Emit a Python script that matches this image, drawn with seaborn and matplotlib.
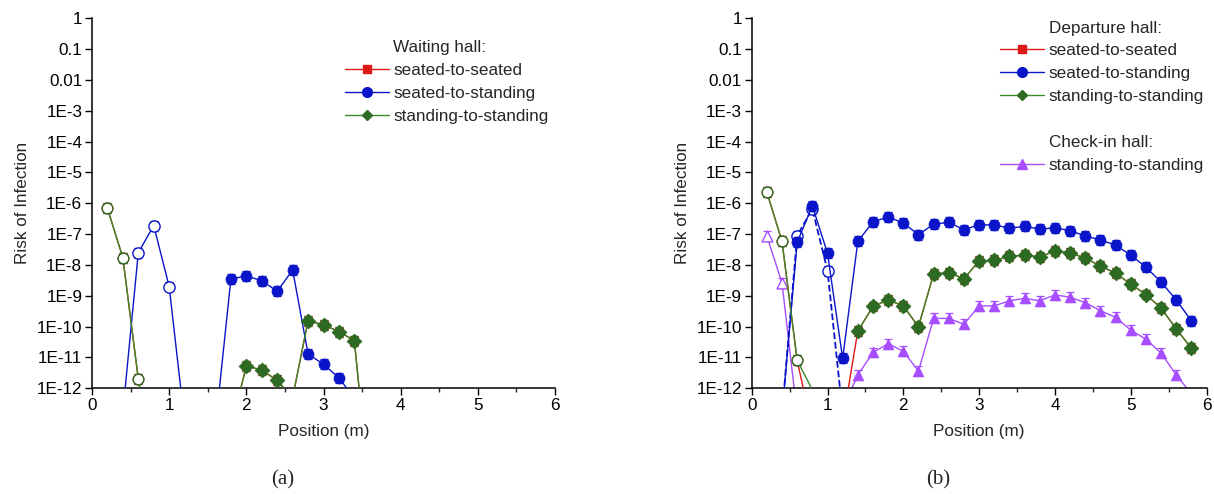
import numpy as np
import pandas as pd
import matplotlib
matplotlib.use("Agg")
import matplotlib.pyplot as plt
from matplotlib.lines import Line2D
import seaborn as sns

nan = np.nan

# ---------------- data ----------------
# (a) waiting hall, positions 0.2 .. 3.6 m
x_a = [0.2, 0.4, 0.6, 0.8, 1.0, 1.2, 1.4, 1.6, 1.8, 2.0, 2.2, 2.4, 2.6, 2.8, 3.0, 3.2, 3.4, 3.6]
a_seated_seated = [6.9e-7, 1.7e-8, 2.0e-12, 2e-15, nan, nan, nan, nan, 5e-14, 5.3e-12, 3.9e-12, 1.8e-12,
                   5e-13, 1.55e-10, 1.15e-10, 6.9e-11, 3.5e-11, 3e-16]
a_seated_standing = [nan, 1.7e-13, 2.5e-8, 1.9e-7, 2.0e-9, 8e-14, nan, 6e-14, 3.5e-9, 4.4e-9, 3.1e-9, 1.4e-9,
                     6.9e-9, 1.3e-11, 6.0e-12, 2.2e-12, 4.6e-13, nan]
a_standing_standing = [6.9e-7, 1.7e-8, 2.0e-12, 2e-15, nan, nan, nan, nan, 5e-14, 5.3e-12, 3.9e-12, 1.8e-12,
                       5e-13, 1.55e-10, 1.15e-10, 6.9e-11, 3.5e-11, 3e-16]

# (b) departure hall + check-in hall, positions 0.2 .. 5.8 m
x_b = [0.2, 0.4, 0.6, 0.8, 1.0, 1.2, 1.4, 1.6, 1.8, 2.0, 2.2, 2.4, 2.6, 2.8, 3.0, 3.2, 3.4, 3.6, 3.8, 4.0,
       4.2, 4.4, 4.6, 4.8, 5.0, 5.2, 5.4, 5.6, 5.8]
b_seated_seated = [2.3e-6, 5.8e-8, 8e-12, 4.5e-14, nan, 8e-14, 7.2e-11, 4.5e-10, 7.4e-10, 4.7e-10, 1.0e-10,
                   5.1e-9, 5.6e-9, 3.6e-9, 1.35e-8, 1.4e-8, 1.9e-8, 2.1e-8, 1.8e-8, 2.9e-8, 2.5e-8, 1.65e-8,
                   9.3e-9, 5.4e-9, 2.4e-9, 1.1e-9, 4.0e-10, 8.5e-11, 2.0e-11]
b_seated_standing = [nan, 1.5e-13, 5.4e-8, 8.3e-7, 2.4e-8, 9.3e-12, 5.8e-8, 2.5e-7, 3.6e-7, 2.3e-7, 9.6e-8,
                     2.1e-7, 2.4e-7, 1.4e-7, 2.0e-7, 2.0e-7, 1.55e-7, 1.8e-7, 1.45e-7, 1.6e-7, 1.3e-7, 8.7e-8,
                     6.5e-8, 4.4e-8, 2.1e-8, 8.5e-9, 2.8e-9, 7.4e-10, 1.55e-10]
b_seated_standing_near = [nan, 1.5e-13, 9.0e-8, 6.5e-7, 6.6e-9, 1.5e-13] + [nan] * 23
b_standing_standing = [2.3e-6, 5.8e-8, 8e-12, 9e-13, nan, nan, 7.2e-11, 4.5e-10, 7.4e-10, 4.7e-10, 1.0e-10,
                       5.1e-9, 5.6e-9, 3.6e-9, 1.35e-8, 1.4e-8, 1.9e-8, 2.1e-8, 1.8e-8, 2.9e-8, 2.5e-8, 1.65e-8,
                       9.3e-9, 5.4e-9, 2.4e-9, 1.1e-9, 4.0e-10, 8.5e-11, 2.0e-11]
b_checkin_standing = [8.7e-8, 2.6e-9, 1.4e-13, nan, nan, 2.2e-13, 2.7e-12, 1.45e-11, 2.8e-11, 1.6e-11, 3.6e-12,
                      1.85e-10, 1.85e-10, 1.2e-10, 4.7e-10, 4.7e-10, 6.9e-10, 8.3e-10, 6.9e-10, 1.07e-9, 9.0e-10,
                      6.0e-10, 3.3e-10, 2.0e-10, 7.8e-11, 3.9e-11, 1.4e-11, 2.7e-12, 6.6e-13]

near_field_limit = 1.0  # positions up to here are drawn with open markers

legend_a = ["Waiting hall:", "seated-to-seated", "seated-to-standing", "standing-to-standing"]
legend_b = ["Departure hall:", "seated-to-seated", "seated-to-standing", "standing-to-standing", "",
            "Check-in hall:", "standing-to-standing"]

ytick_values = [1e0, 1e-1, 1e-2, 1e-3, 1e-4, 1e-5, 1e-6, 1e-7, 1e-8, 1e-9, 1e-10, 1e-11, 1e-12]
ytick_labels = ["1", "0.1", "0.01", "1E-3", "1E-4", "1E-5", "1E-6", "1E-7", "1E-8", "1E-9", "1E-10",
                "1E-11", "1E-12"]
xtick_values = [0, 1, 2, 3, 4, 5, 6]

# ---------------- style ----------------
RED = "#e01818"
BLUE = "#0a14c8"
GREEN_L = "#3a8a2a"
GREEN_M = "#2d6a22"
PURPLE = "#a64dff"
FS = 12.3

sns.set_style("ticks")
plt.rcParams["font.family"] = ["Liberation Sans", "DejaVu Sans"]
plt.rcParams["font.size"] = FS


def to_frame(xs, ys):
    rows = []
    seg = 0
    for x, y in zip(xs, ys):
        if np.isnan(y):
            seg += 1
            continue
        rows.append((x, y, seg))
    return pd.DataFrame(rows, columns=["x", "y", "seg"])


def draw_series(ax, xs, ys, color, mcolor, marker, ms, lw=1.0, ls="-", open_all=False,
                open_near=True, z=2, err=True):
    df = to_frame(xs, ys)
    sns.lineplot(data=df, x="x", y="y", units="seg", estimator=None, color=color, lw=lw,
                 linestyle=ls, ax=ax, legend=False, zorder=z)
    vis = df[(df["y"] >= 1e-12) & (df["y"] <= 1)]
    if open_all:
        is_open = np.ones(len(vis), bool)
    elif open_near:
        is_open = (vis["x"] <= near_field_limit + 1e-9).values
    else:
        is_open = np.zeros(len(vis), bool)
    if err and len(vis):
        yv = vis["y"].values
        ax.errorbar(vis["x"].values, yv, yerr=[yv - yv / 1.45, yv * 1.45 - yv], fmt="none",
                    ecolor=mcolor, elinewidth=0.8, capsize=3, capthick=0.9, zorder=z + 0.5)
    filled = vis[~is_open]
    opened = vis[is_open]
    if len(filled):
        sns.scatterplot(data=filled, x="x", y="y", marker=marker, s=ms, color=mcolor,
                        edgecolor=mcolor, linewidth=0.6, ax=ax, legend=False, zorder=z + 1)
    if len(opened):
        omarker = "^" if marker == "^" else "o"
        sns.scatterplot(data=opened, x="x", y="y", marker=omarker, s=max(ms, 55) * 1.05, color="white",
                        edgecolor=mcolor, linewidth=1.0, ax=ax, legend=False, zorder=z + 1)


def style_axes(ax):
    ax.set_yscale("log")
    ax.set_ylim(1e-12, 1)
    ax.set_xlim(0, 6)
    ax.set_yticks(ytick_values)
    ax.set_yticklabels(ytick_labels)
    ax.yaxis.set_minor_locator(matplotlib.ticker.NullLocator())
    ax.set_xticks(xtick_values)
    ax.set_xticklabels([str(v) for v in xtick_values])
    ax.xaxis.set_minor_locator(matplotlib.ticker.MultipleLocator(0.5))
    for s in ["top", "right"]:
        ax.spines[s].set_visible(False)
    for s in ["left", "bottom"]:
        ax.spines[s].set_linewidth(1.1)
        ax.spines[s].set_color("black")
    ax.tick_params(axis="both", which="major", direction="out", length=5, width=1.0,
                   labelsize=FS, colors="black", pad=2)
    ax.tick_params(axis="x", which="minor", direction="out", length=3, width=1.0)
    ax.set_xlabel("Position (m)", fontsize=FS, labelpad=8)
    ax.set_ylabel("Risk of Infection", fontsize=FS, labelpad=5)
    ax.grid(False)


def handle(color, mcolor, marker, ms=6.5):
    return Line2D([], [], color=color, marker=marker, markersize=ms, markerfacecolor=mcolor,
                  markeredgecolor=mcolor, lw=1.0)


blank = Line2D([], [], color="none", lw=0)

fig = plt.figure(figsize=(12.14, 4.94), dpi=100)
ax1 = fig.add_axes([92 / 1214, 1 - 388.3 / 494, 463 / 1214, 370 / 494])
ax2 = fig.add_axes([751.7 / 1214, 1 - 388.3 / 494, 454.8 / 1214, 370 / 494])

# panel (a)
draw_series(ax1, x_a, a_seated_seated, RED, RED, "s", 28, z=2)
draw_series(ax1, x_a, a_seated_standing, BLUE, BLUE, "o", 62, z=3)
draw_series(ax1, x_a, a_standing_standing, GREEN_L, GREEN_M, "D", 56, z=4)
style_axes(ax1)
h_a = [blank, handle(RED, RED, "s", 6), handle(BLUE, BLUE, "o", 7), handle(GREEN_L, GREEN_M, "D", 5.5)]
ax1.legend(h_a, legend_a, loc="upper left", bbox_to_anchor=(0.546, 0.941), frameon=False,
           fontsize=FS, handlelength=2.6, handletextpad=0.25, borderpad=0, borderaxespad=0,
           labelspacing=0.46)

# panel (b)
draw_series(ax2, x_b, b_checkin_standing, PURPLE, PURPLE, "^", 58, z=2)
draw_series(ax2, x_b, b_seated_seated, RED, RED, "s", 28, z=3)
draw_series(ax2, x_b, b_seated_standing_near, BLUE, BLUE, "o", 62, lw=1.3, ls="--", open_all=True, z=4)
draw_series(ax2, x_b, b_seated_standing, BLUE, BLUE, "o", 62, open_near=False, z=5)
draw_series(ax2, x_b, b_standing_standing, GREEN_L, GREEN_M, "D", 56, z=6)
style_axes(ax2)
h_b = [blank, handle(RED, RED, "s", 6), handle(BLUE, BLUE, "o", 7), handle(GREEN_L, GREEN_M, "D", 5.5),
       blank, blank, handle(PURPLE, PURPLE, "^", 7)]
ax2.legend(h_b, legend_b, loc="upper left", bbox_to_anchor=(0.546, 0.994), frameon=False,
           fontsize=FS, handlelength=2.6, handletextpad=0.25, borderpad=0, borderaxespad=0,
           labelspacing=0.46)

fig.text(283 / 1214, 1 - 480 / 494, "(a)", ha="center", va="center", fontsize=15,
         family=["Liberation Serif", "DejaVu Serif"])
fig.text(938 / 1214, 1 - 480 / 494, "(b)", ha="center", va="center", fontsize=15,
         family=["Liberation Serif", "DejaVu Serif"])

fig.savefig("out.png", dpi=100)
